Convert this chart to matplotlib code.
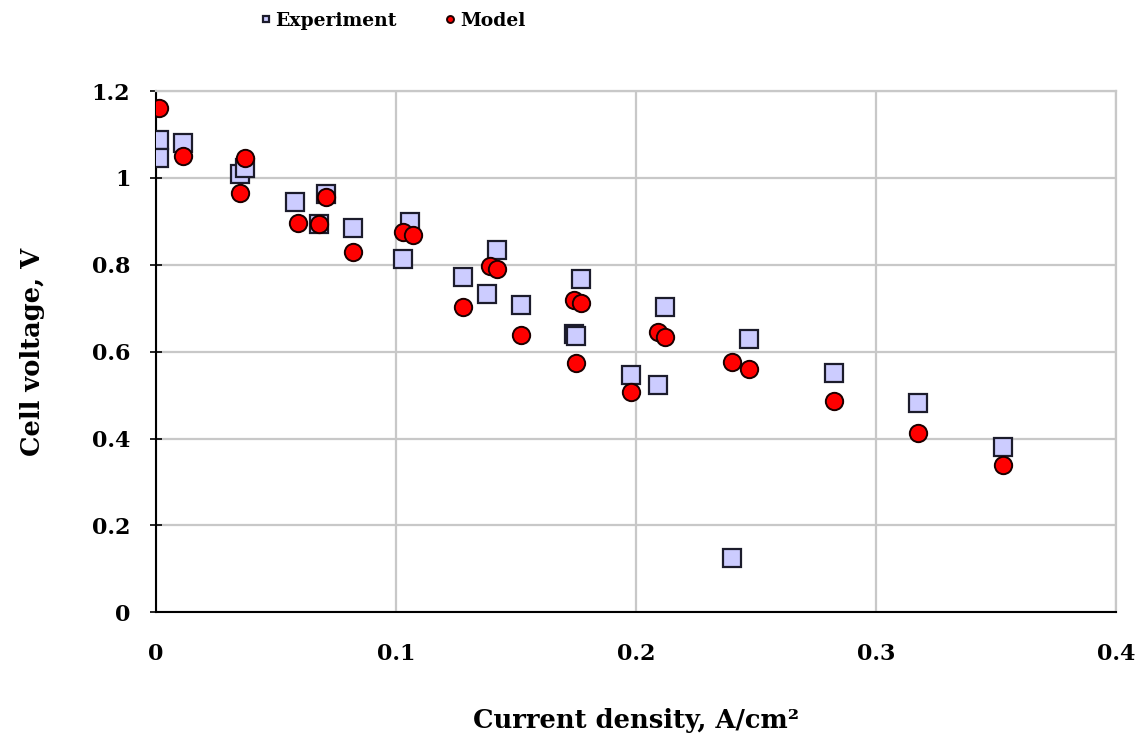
import matplotlib
matplotlib.use('Agg')
import matplotlib.pyplot as plt

# Experimental data (current density A/cm2, cell voltage V)
exp_j = [0.001, 0.001, 0.011, 0.035, 0.037, 0.058, 0.068, 0.071, 0.082,
         0.103, 0.106, 0.128, 0.138, 0.142, 0.152, 0.174, 0.175, 0.177,
         0.198, 0.209, 0.212, 0.240, 0.247, 0.2825, 0.3175, 0.353]
exp_v = [1.087, 1.046, 1.080, 1.009, 1.023, 0.944, 0.894, 0.963, 0.884,
         0.813, 0.898, 0.772, 0.734, 0.834, 0.707, 0.640, 0.636, 0.767,
         0.546, 0.523, 0.702, 0.124, 0.629, 0.550, 0.481, 0.380]

# Model predictions
mod_j = [0.001, 0.011, 0.037, 0.035, 0.059, 0.068, 0.071, 0.082, 0.103,
         0.107, 0.139, 0.142, 0.128, 0.152, 0.174, 0.177, 0.175, 0.198,
         0.209, 0.212, 0.240, 0.247, 0.2825, 0.3175, 0.353]
mod_v = [1.161, 1.050, 1.046, 0.965, 0.896, 0.894, 0.956, 0.829, 0.875,
         0.869, 0.797, 0.790, 0.702, 0.638, 0.719, 0.711, 0.575, 0.507,
         0.645, 0.633, 0.576, 0.560, 0.486, 0.412, 0.339]

x_ticks = [0, 0.1, 0.2, 0.3, 0.4]
x_labels = ['0', '0.1', '0.2', '0.3', '0.4']
y_ticks = [0, 0.2, 0.4, 0.6, 0.8, 1.0, 1.2]
y_labels = ['0', '0.2', '0.4', '0.6', '0.8', '1', '1.2']

plt.rcParams['font.family'] = ['DejaVu Serif']
plt.rcParams['font.weight'] = 'bold'

fig = plt.figure(figsize=(11.48, 7.35), dpi=100)
ax = fig.add_axes([0.136, 0.167, 0.836, 0.709])

ax.plot(exp_j, exp_v, linestyle='none', marker='s', markersize=12.5,
        markerfacecolor='#ccccff', markeredgecolor='#1c1c2c',
        markeredgewidth=1.6, label='Experiment', zorder=3)
ax.plot(mod_j, mod_v, linestyle='none', marker='o', markersize=12.5,
        markerfacecolor='#ff0000', markeredgecolor='#1a0000',
        markeredgewidth=1.4, label='Model', zorder=4)

ax.set_xlim(0, 0.4)
ax.set_ylim(0, 1.2)
ax.set_xticks(x_ticks)
ax.set_xticklabels(x_labels)
ax.set_yticks(y_ticks)
ax.set_yticklabels(y_labels)
ax.tick_params(axis='both', labelsize=16, width=1.2, length=5)
ax.tick_params(axis='y', direction='inout', length=9, pad=14)
ax.tick_params(axis='x', direction='inout', length=0, pad=22)

ax.grid(True, color='#c8c8c8', linewidth=1.6)
ax.set_axisbelow(True)
for side in ['top', 'right']:
    ax.spines[side].set_color('#c8c8c8')
    ax.spines[side].set_linewidth(1.6)
for side in ['left', 'bottom']:
    ax.spines[side].set_color('black')
    ax.spines[side].set_linewidth(1.5)

ax.set_xlabel('Current density, A/cm²', fontsize=18.5, fontweight='bold', labelpad=31)
ax.set_ylabel('Cell voltage, V', fontsize=18.5, fontweight='bold', labelpad=34)

leg = fig.legend(loc='upper left', bbox_to_anchor=(0.213, 1.007), ncol=2,
                 frameon=False, fontsize=13.5, markerscale=0.4,
                 handlelength=0.5, handletextpad=0.25, columnspacing=2.6)

fig.savefig('out.png', dpi=100)
